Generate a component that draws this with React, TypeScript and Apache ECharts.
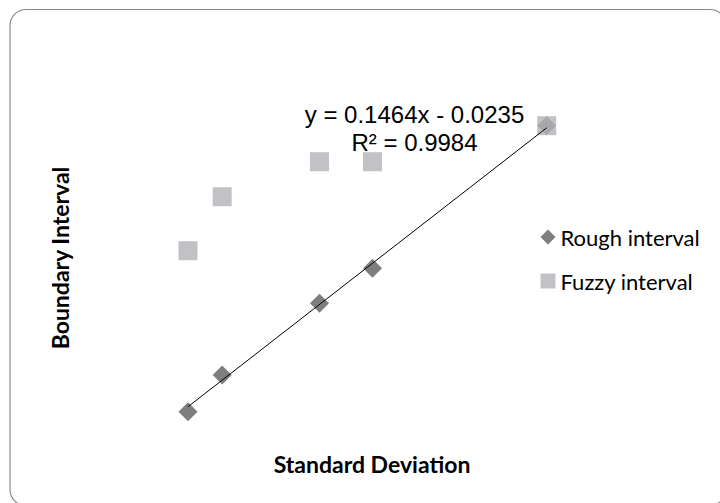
import React, { useEffect, useRef } from "react";
import * as echarts from "echarts";

const xValues = [0.5, 0.7, 1.27, 1.58, 2.6];
const roughValues = [0.0442, 0.0847, 0.1637, 0.2023, 0.3595];
const fuzzyValues = [0.2217, 0.2812, 0.3198, 0.3198, 0.3595];
const trendSlope = 0.1464;
const trendIntercept = -0.0235;
const equationText = "y = 0.1464x - 0.0235";
const r2Text = "R² = 0.9984";
const xTitle = "Standard Deviation";
const yTitle = "Boundary Interval";
const seriesNames = ["Rough interval", "Fuzzy interval"];

export default function App() {
  const ref = useRef<HTMLDivElement>(null);
  useEffect(() => {
    if (!ref.current) return;
    const chart = echarts.init(ref.current, null, { renderer: "svg" });
    const xMin = Math.min(...xValues);
    const xMax = Math.max(...xValues);
    const trend = [
      [xMin, trendSlope * xMin + trendIntercept],
      [xMax, trendSlope * xMax + trendIntercept],
    ];
    chart.setOption({
      animation: false,
      backgroundColor: "#ffffff",
      grid: { left: 102.6, top: 70.8, width: 529.5, height: 381 },
      xAxis: { type: "value", min: 0, max: 3.1, show: false },
      yAxis: { type: "value", min: 0, max: 0.42, show: false },
      legend: {
        orient: "vertical",
        left: 535.5,
        top: 221,
        itemWidth: 15,
        itemHeight: 15,
        itemGap: 22,
        data: [
          { name: seriesNames[0], icon: "diamond" },
          { name: seriesNames[1], icon: "rect" },
        ],
        textStyle: { fontFamily: "Lato", fontSize: 22, lineHeight: 22, color: "#000" },
      },
      series: [
        {
          name: seriesNames[0],
          type: "scatter",
          symbol: "diamond",
          symbolSize: 19,
          itemStyle: { color: "#5e5e5e" },
          data: xValues.map((x, i) => [x, roughValues[i]]),
          z: 2,
        },
        {
          name: seriesNames[1],
          type: "scatter",
          symbol: "rect",
          symbolSize: 19,
          itemStyle: { color: "#b3b3b8" },
          data: xValues.map((x, i) => [x, fuzzyValues[i]]),
          z: 3,
        },
        {
          name: "trend",
          type: "line",
          data: trend,
          symbol: "none",
          lineStyle: { color: "#000", width: 1 },
          z: 4,
        },
      ],
      graphic: [
        {
          type: "rect",
          shape: { x: 10, y: 9.5, width: 716, height: 496, r: 16 },
          style: { fill: "none", stroke: "#8a8a8a", lineWidth: 1.2 },
          z: 0,
        },
        {
          type: "text",
          x: 414.5,
          y: 114,
          style: {
            text: equationText,
            fontFamily: "Liberation Sans",
            fontSize: 24,
            fill: "#000",
            textAlign: "center",
            textVerticalAlign: "middle",
          },
        },
        {
          type: "text",
          x: 414.5,
          y: 142,
          style: {
            text: r2Text,
            fontFamily: "Liberation Sans",
            fontSize: 24,
            fill: "#000",
            textAlign: "center",
            textVerticalAlign: "middle",
          },
        },
        {
          type: "text",
          x: 372,
          y: 464,
          style: {
            text: xTitle,
            fontFamily: "Lato",
            fontWeight: "bold",
            fontSize: 23,
            fill: "#000",
            textAlign: "center",
            textVerticalAlign: "middle",
          },
        },
        {
          type: "text",
          x: 60,
          y: 258,
          rotation: Math.PI / 2,
          style: {
            text: yTitle,
            fontFamily: "Lato",
            fontWeight: "bold",
            fontSize: 23,
            fill: "#000",
            textAlign: "center",
            textVerticalAlign: "middle",
          },
        },
      ],
    });
    return () => chart.dispose();
  }, []);
  return (
    <div
      ref={ref}
      style={{ position: "fixed", left: 0, top: 0, width: 720, height: 503 }}
    />
  );
}
